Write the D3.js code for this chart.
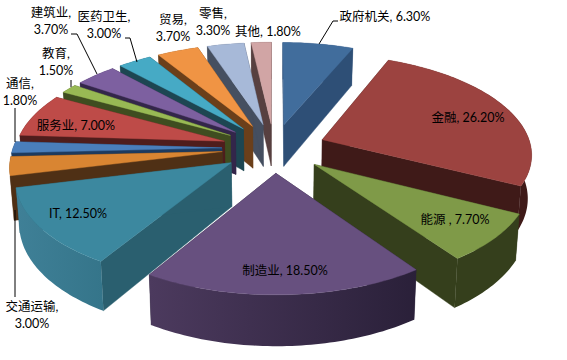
<!DOCTYPE html>
<html><head><meta charset="utf-8">
<script src="https://cdn.jsdelivr.net/npm/d3@7/dist/d3.min.js"></script>
<style>html,body{margin:0;padding:0;background:#fff}svg{display:block}
text{font-family:Lato,"Noto Sans CJK SC",sans-serif;font-size:12.5px;fill:#000}</style>
</head><body><svg id="c" width="567" height="360"></svg>
<script>
const categories=["政府机关","金融","能源 ","制造业","IT","交通运输","通信","服务业","教育","建筑业","医药卫生","贸易","零售","其他"];
const values=[6.3,26.2,7.7,18.5,12.5,3.0,1.8,7.0,1.5,3.7,3.0,3.7,3.3,1.8];
const topColors=["#416D9C","#9C4340","#7F9A48","#67507F","#3C889F","#D98532","#4A7EBB","#BE4B48","#98B954","#7D60A0","#46AAC5","#F09444","#A7B9D8","#D1A5A5"];
const cutColors=["#2E4F76","#3F1A18","#353F1C","#2A2039","#2A5F6F","#4F3015","#1D3A5E","#4F1D1C","#3F4D20","#33264A","#1D4652","#6B3F1A","#454F60","#574040"];
const arcLeftColors=["#2E4F76","#3F1A18","#353F1C","#4C3A5E","#3F8097","#4F3015","#1D3A5E","#4F1D1C","#3F4D20","#33264A","#1D4652","#6B3F1A","#454F60","#574040"];
const arcRightColors=["#2E4F76","#3F1A18","#353F1C","#2A2039","#35758A","#4F3015","#1D3A5E","#4F1D1C","#3F4D20","#33264A","#1D4652","#6B3F1A","#454F60","#574040"];
// label layout: [text lines], centre x, centre y of first line
const labelLines=[["政府机关, 6.30%"],["金融, 26.20%"],["能源 , 7.70%"],["制造业, 18.50%"],["IT, 12.50%"],["交通运输,","3.00%"],["通信,","1.80%"],["服务业, 7.00%"],["教育,","1.50%"],["建筑业,","3.70%"],["医药卫生,","3.00%"],["贸易,","3.70%"],["零售,","3.30%"],["其他, 1.80%"]];
const labelX=[385,468,455,285,78,32,20,76,56,51,104,173,213,268];
const labelY=[16,117,219,270,213,306,83,125,53,12,16,19,13,31];
const leaderLines=[
 [[319,44],[333,21],[338,21]],
 [[71,34],[77,34],[97,74]],
 [[125,38],[130,38],[137,62]],
 [[71,80],[71,87]],
 [[15,108],[15,142]],
 [[15,210],[15,297]]
];
const explode=.249,persp=.13,thick=43,shrink=.985;
const cx=274,cy=148;
const sx=d3.scaleLinear().domain([-1,1]).range([-209,209]);
const sy=d3.scaleLinear().domain([-1,1]).range([-98.5,98.5]);
const top3=(u,v)=>[cx+sx(u)/(1-persp*v),cy+sy(v)/(1-persp*v)];
const bot3=(u,v)=>[cx+shrink*sx(u)/(1-persp*v),cy+(sy(v)+thick)/(1-persp*v)];
const svg=d3.select("#c");
svg.append("rect").attr("width",567).attr("height",360).attr("fill","#fff");
const defs=svg.append("defs");
const pie=d3.pie().sort(null).startAngle(0).endAngle(2*Math.PI)(values);
const line=d3.line();
const slices=pie.map((d,i)=>{
  const mid=(d.startAngle+d.endAngle)/2;
  const ox=explode*Math.sin(mid),oy=-explode*Math.cos(mid);
  const n=Math.max(2,Math.ceil((d.endAngle-d.startAngle)/.02));
  const angs=d3.range(n+1).map(k=>d.startAngle+(d.endAngle-d.startAngle)*k/n);
  const arcUV=angs.map(a=>[ox+Math.sin(a),oy-Math.cos(a)]);
  return {i,mid,apex:[ox,oy],arcUV};
}).sort((a,b)=>(-Math.cos(a.mid))-(-Math.cos(b.mid)));
const g=svg.append("g");
slices.forEach(s=>{
  const tA=s.arcUV.map(p=>top3(...p)),bA=s.arcUV.map(p=>bot3(...p));
  const tC=top3(...s.apex),bC=bot3(...s.apex);
  const cc=cutColors[s.i];
  const face=(pts,c)=>g.append("path").attr("d",line(pts)+"Z").attr("fill",c).attr("stroke",c).attr("stroke-width",.4);
  face([tC,tA[0],bA[0],bC],cc);
  face([tC,tA[tA.length-1],bA[bA.length-1],bC],cc);
  const xs=bA.map(p=>p[0]).concat(tA.map(p=>p[0]));
  const gid="g"+s.i;
  const lg=defs.append("linearGradient").attr("id",gid).attr("gradientUnits","userSpaceOnUse")
    .attr("x1",d3.min(xs)).attr("x2",d3.max(xs)).attr("y1",0).attr("y2",0);
  lg.append("stop").attr("offset",0).attr("stop-color",arcLeftColors[s.i]);
  lg.append("stop").attr("offset",1).attr("stop-color",arcRightColors[s.i]);
  g.append("path").attr("d",line(tA.concat(bA.slice().reverse()))+"Z").attr("fill",`url(#${gid})`);
  g.append("path").attr("d",line([tC].concat(tA))+"Z").attr("fill",topColors[s.i]).attr("stroke",topColors[s.i]).attr("stroke-width",.4);
});
leaderLines.forEach(l=>svg.append("path").attr("d",line(l)).attr("fill","none").attr("stroke","#000").attr("stroke-width",1));
labelLines.forEach((ls,i)=>{
  ls.forEach((t,k)=>svg.append("text").attr("x",labelX[i]).attr("y",labelY[i]+k*17.3).attr("dy","0.36em").attr("text-anchor","middle").text(t));
});
</script></body></html>
